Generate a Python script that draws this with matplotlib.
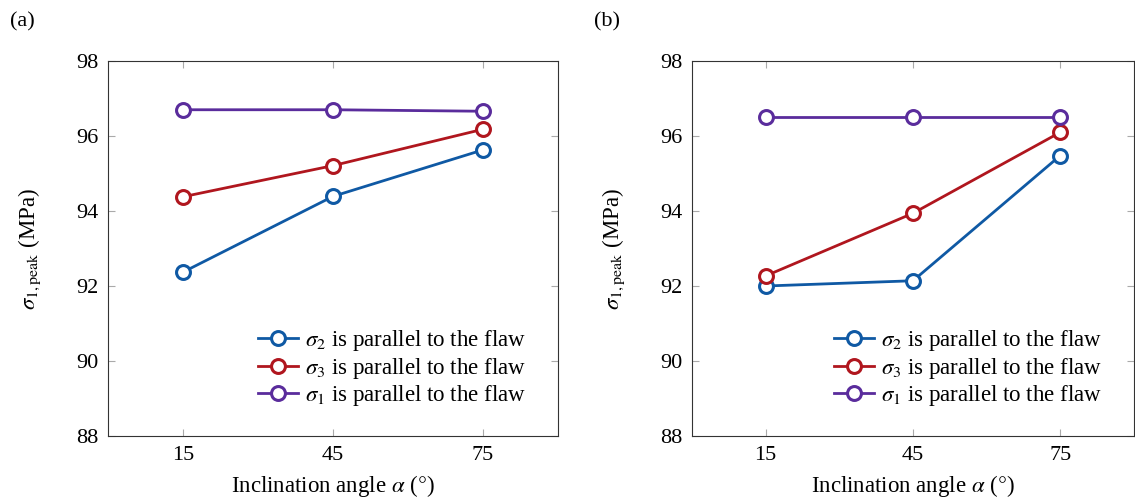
import matplotlib
matplotlib.use("Agg")
import matplotlib.pyplot as plt

plt.rcParams["font.family"] = ["Liberation Serif", "DejaVu Serif"]
plt.rcParams["mathtext.fontset"] = "stix"

angles = [15, 45, 75]

# panel (a)
a_sigma2 = [92.37, 94.39, 95.63]
a_sigma3 = [94.38, 95.21, 96.18]
a_sigma1 = [96.70, 96.70, 96.66]

# panel (b)
b_sigma2 = [92.00, 92.14, 95.48]
b_sigma3 = [92.27, 93.94, 96.10]
b_sigma1 = [96.52, 96.52, 96.52]

labels = [r"$\sigma_2$ is parallel to the flaw",
          r"$\sigma_3$ is parallel to the flaw",
          r"$\sigma_1$ is parallel to the flaw"]
colors = ["#0F59A4", "#B0161E", "#5A2C9C"]
yticks = [88, 90, 92, 94, 96, 98]

fig = plt.figure(figsize=(11.35, 5.01), dpi=100)
W, H = 1135, 501
ax_a = fig.add_axes([108 / W, 1 - 436 / H, 450 / W, 375 / H])
ax_b = fig.add_axes([692 / W, 1 - 436 / H, 442 / W, 375 / H])

panels = [(ax_a, [a_sigma2, a_sigma3, a_sigma1], "(a)", 10),
          (ax_b, [b_sigma2, b_sigma3, b_sigma1], "(b)", 594)]

for ax, series, tag, tx in panels:
    for vals, c, lab in zip(series, colors, labels):
        ax.plot(angles, vals, color=c, lw=2.0, marker="o", ms=10,
                mfc="white", mec=c, mew=2.2, label=lab)
    ax.set_xlim(0, 90)
    ax.set_ylim(88, 98)
    ax.set_xticks(angles)
    ax.set_yticks(yticks)
    ax.tick_params(direction="in", top=True, right=True, length=5,
                   color="#aaaaaa", labelsize=16, pad=7)
    for s in ax.spines.values():
        s.set_linewidth(0.8)
        s.set_color("#333333")
    ax.set_xlabel(r"Inclination angle $\alpha$ ($\degree$)", fontsize=16.5, labelpad=6)
    ax.set_ylabel(r"$\sigma_{1,\mathrm{peak}}$ (MPa)", fontsize=16.5, labelpad=24)
    ax.legend(loc="lower right", frameon=False, fontsize=16.5,
              handlelength=1.75, handletextpad=0.3, labelspacing=0.1,
              bbox_to_anchor=(0.975, 0.02))
    fig.text(tx / W, 1 - 22 / H, tag, fontsize=16, va="center", ha="left")

fig.savefig("out.png", dpi=100)
